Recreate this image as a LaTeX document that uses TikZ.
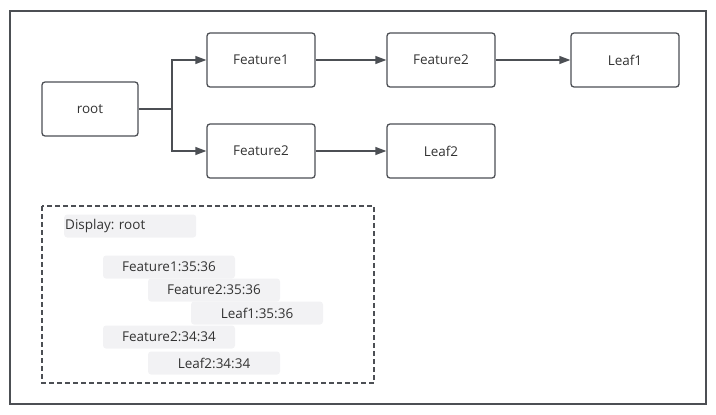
\documentclass[tikz,border=0pt]{standalone}
\usepackage{fontspec}
\setmainfont{Open Sans}
\frenchspacing
\usetikzlibrary{arrows.meta}
\definecolor{ink}{HTML}{4C4F54}
\definecolor{chipgray}{HTML}{F2F2F4}
\tikzset{box/.style = {draw=ink, line width=1.3pt, rounded corners=3pt,
    minimum width=108pt, minimum height=54pt, inner sep=0pt, text=black!80},
  chip/.style = {fill=chipgray, rounded corners=3pt, minimum width=132pt,
    minimum height=23pt, inner sep=0pt, text=black!80},
  link/.style = {draw=ink, line width=1.3pt, -{Triangle[length=11pt,width=8pt]}}}

\begin{document}
\begin{tikzpicture}[x=1pt, y=-1pt, font=\fontsize{13.5}{16}\selectfont]
      \useasboundingbox (0,0) rectangle (716,415);
      \draw[ink, line width=1.4pt] (10,11) rectangle (706,404);
      % tree
      \node[box, minimum width=96pt] (root) at (90,109) {root};
      \node[box] (fa) at (261,60) {Feature1};
      \node[box] (fb) at (261,151) {Feature2};
      \node[box] (fc) at (441,60) {Feature2};
      \node[box] (la) at (625,60) {Leaf1};
      \node[box] (lb) at (441,151) {Leaf2};
      \coordinate (j) at (172,109);
      \draw[ink, line width=1.3pt] (root) -- (j);
      \path[link] (j) |- (fa);
      \path[link] (j) |- (fb);
      \path[link] (fa) -- (fc);
      \path[link] (fc) -- (la);
      \path[link] (fb) -- (lb);
      % display
      \draw[ink, line width=1.3pt, dash pattern=on 5pt off 3pt] (42,206) rectangle (374,383);
      \node[chip, anchor=west, text width=130pt, inner xsep=1pt, align=left] (disp) at (64,226) {Display: root};
      \node[chip] (da) at (169,267) {Feature1:35:36};
      \node[chip] (db) at (214,290) {Feature2:35:36};
      \node[chip] (dc) at (257,313) {Leaf1:35:36};
      \node[chip] (dd) at (169,337) {Feature2:34:34};
      \node[chip] (de) at (214,363) {Leaf2:34:34};
    \end{tikzpicture}
\end{document}
